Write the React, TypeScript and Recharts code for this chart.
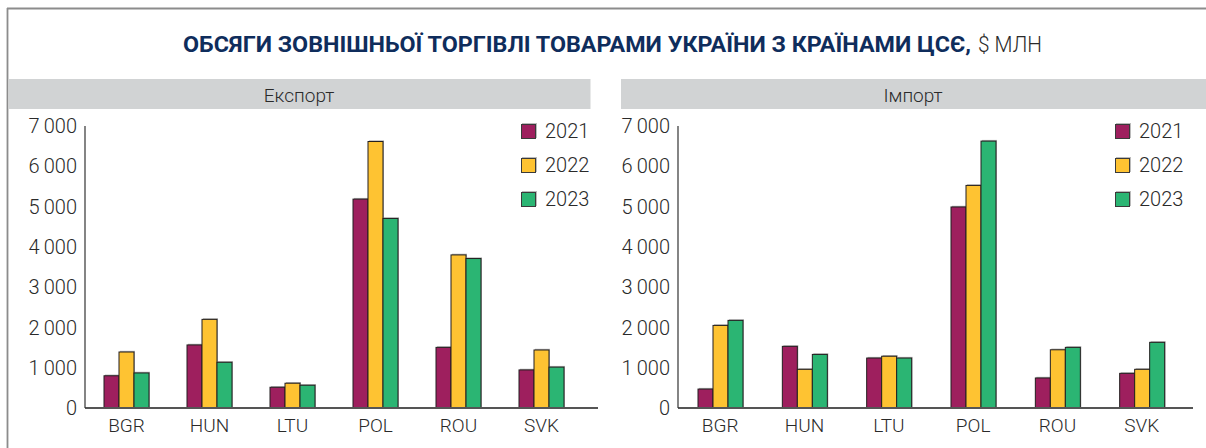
import React from "react";
import { BarChart, Bar, XAxis, YAxis, Legend } from "recharts";

const categories = ["BGR", "HUN", "LTU", "POL", "ROU", "SVK"];
const years = ["2021", "2022", "2023"];
const yearColors = ["#9e1f5e", "#fec332", "#2bb573"];

const export2021 = [800, 1565, 515, 5185, 1505, 945];
const export2022 = [1390, 2200, 615, 6615, 3800, 1440];
const export2023 = [870, 1135, 565, 4705, 3710, 1015];

const import2021 = [470, 1530, 1240, 4990, 745, 860];
const import2022 = [2050, 960, 1285, 5525, 1445, 960];
const import2023 = [2175, 1330, 1240, 6625, 1505, 1630];

const yTicks = [0, 1000, 2000, 3000, 4000, 5000, 6000, 7000];

const titleBold = "ОБСЯГИ ЗОВНІШНЬОЇ ТОРГІВЛІ ТОВАРАМИ УКРАЇНИ З КРАЇНАМИ ЦСЄ,";
const titleUnit = "$ МЛН";
const panelTitles = ["Експорт", "Імпорт"];

const FONT = "Roboto, 'Open Sans', sans-serif";

const buildRows = (a: number[], b: number[], c: number[]) =>
  categories.map((name, i) => ({ name, y2021: a[i], y2022: b[i], y2023: c[i] }));

const exportData = buildRows(export2021, export2022, export2023);
const importData = buildRows(import2021, import2022, import2023);

const fmt = (v: number) => {
  if (v === 0) return "0";
  const s = String(v);
  return s.slice(0, s.length - 3) + "\u2009" + s.slice(s.length - 3);
};

const BarShape = (props: any) => {
  const { x, y, width, height, fill } = props;
  if (!height || height <= 0) return null;
  return (
    <g>
      <rect x={x + 1} y={y - 1.2} width={width} height={height + 1.2} fill="#b5b5b5" />
      <rect x={x} y={y} width={width} height={height} fill={fill} stroke="#231f20" strokeWidth={1} />
    </g>
  );
};

const LegendContent = () => (
  <div style={{ fontFamily: FONT }}>
    {years.map((yr, i) => (
      <div key={yr} style={{ display: "flex", alignItems: "center", height: 34 }}>
        <div
          style={{
            width: 13,
            height: 13,
            background: yearColors[i],
            border: "1px solid #3a3a3a",
            boxShadow: "1px -1px 0 #bbb",
            marginRight: 9,
          }}
        />
        <span style={{ fontSize: 20, color: "#2a2a2a", fontWeight: 300 }}>{yr}</span>
      </div>
    ))}
  </div>
);

type PanelProps = {
  data: any[];
  left: number;
  yAxisWidth: number;
  rightMargin: number;
  padRight: number;
  legendLeft: number;
};

const Panel = ({ data, left, yAxisWidth, rightMargin, padRight, legendLeft }: PanelProps) => (
  <div style={{ position: "absolute", left, top: 0 }}>
    <BarChart
      width={606}
      height={448}
      data={data}
      margin={{ top: 126, right: rightMargin, bottom: 0, left: 0 }}
      barGap={0}
      barSize={15}
    >
      <XAxis
        dataKey="name"
        axisLine={{ stroke: "#555", strokeWidth: 1.8 }}
        tickLine={false}
        tickSize={0}
        tickMargin={11}
        height={40}
        padding={{ left: 0, right: padRight }}
        tick={{ fontSize: 19, fill: "#2a2a2a", fontFamily: FONT, fontWeight: 300 }}
        interval={0}
      />
      <YAxis
        domain={[0, 7000]}
        ticks={yTicks}
        width={yAxisWidth}
        axisLine={{ stroke: "#333", strokeWidth: 1.2 }}
        tickLine={false}
        tickSize={0}
        tickMargin={8}
        tickFormatter={fmt}
        interval={0}
        tick={{ fontSize: 20, fill: "#2a2a2a", fontFamily: FONT, fontWeight: 300 }}
      />
      <Legend
        layout="vertical"
        verticalAlign="middle"
        align="center"
        content={<LegendContent />}
        wrapperStyle={{ left: legendLeft, top: 114, width: 90 }}
      />
      {years.map((yr, i) => (
        <Bar
          key={yr}
          dataKey={"y" + yr}
          name={yr}
          fill={yearColors[i]}
          isAnimationActive={false}
          shape={BarShape}
        />
      ))}
    </BarChart>
  </div>
);

export default function App() {
  return (
    <div
      style={{
        position: "absolute",
        left: 0,
        top: 0,
        width: 1206,
        height: 448,
        background: "#fff",
        overflow: "hidden",
      }}
    >
      <svg width={1206} height={448} style={{ position: "absolute", left: 0, top: 0 }}>
        <line x1={7} y1={8.5} x2={1206} y2={8.5} stroke="#8c8c8c" strokeWidth={2} />
        <line x1={7.5} y1={8} x2={7.5} y2={448} stroke="#8c8c8c" strokeWidth={1.8} />
        <rect x={8.5} y={79} width={582} height={30} fill="#d1d3d4" />
        <rect x={621} y={79} width={585} height={30} fill="#d1d3d4" />
        <text
          x={299}
          y={95}
          textAnchor="middle"
          dominantBaseline="central"
          fontFamily={FONT}
          fontSize={19}
          fontWeight={300}
          fill="#2a2a2a"
        >
          {panelTitles[0]}
        </text>
        <text
          x={913}
          y={95}
          textAnchor="middle"
          dominantBaseline="central"
          fontFamily={FONT}
          fontSize={19}
          fontWeight={300}
          fill="#2a2a2a"
        >
          {panelTitles[1]}
        </text>
        <text
          x={183}
          y={52}
          fontFamily={FONT}
          fontSize={22}
          fontWeight={700}
          fill="#0f2d5c"
          textLength={788}
          lengthAdjust="spacingAndGlyphs"
        >
          {titleBold}
        </text>
        <text
          x={978}
          y={52}
          fontFamily={FONT}
          fontSize={22}
          fontWeight={300}
          fill="#2a2a2a"
          textLength={64}
          lengthAdjust="spacingAndGlyphs"
        >
          {titleUnit}
        </text>
      </svg>
      <Panel data={exportData} left={0} yAxisWidth={85} rightMargin={8} padRight={15} legendLeft={521} />
      <Panel data={importData} left={600} yAxisWidth={78} rightMargin={13} padRight={9} legendLeft={515} />
    </div>
  );
}
